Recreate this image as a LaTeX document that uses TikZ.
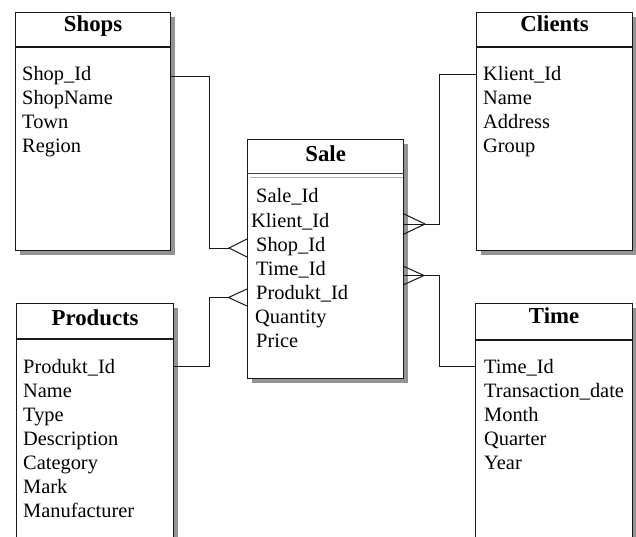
\documentclass[tikz,border=0pt]{standalone}
\usepackage{fontspec}
\setmainfont{Liberation Serif}
\usetikzlibrary{shadows}

\tikzset{
  tbl/.style={draw=black!90, line width=1.2pt, fill=white, anchor=north west,
    inner sep=0pt,
    drop shadow={shadow xshift=4.5pt, shadow yshift=-4.5pt, fill=black!42, opacity=1}},
  ttl/.style={anchor=base, inner sep=0pt, font=\bfseries\fontsize{22.8}{26}\selectfont},
  attr/.style={anchor=base west, inner sep=0pt, font=\fontsize{20.4}{24}\selectfont},
  conn/.style={draw=black!90, line width=1pt},
  sep/.style={draw=black!90, line width=1.2pt},
}

\begin{document}
\begin{tikzpicture}[x=1pt,y=-1pt]
\useasboundingbox (0,0) rectangle (636,537);
\fill[white] (0,0) rectangle (636,537);
\clip (0,0) rectangle (636,537);

% ---------- tables ----------
\node[tbl, minimum width=155pt, minimum height=238pt] (shops) at (15,12) {};
\node[tbl, minimum width=156pt, minimum height=238pt] (clients) at (476,12) {};
\node[tbl, minimum width=156pt, minimum height=239pt] (sale) at (247,139) {};
\node[tbl, minimum width=157pt, minimum height=262pt] (products) at (16,303) {};
\node[tbl, minimum width=157pt, minimum height=262pt] (time) at (475,303) {};

% header separators
\draw[sep] ([yshift=-35pt]shops.north west) -- ([yshift=-35pt]shops.north east);
\draw[sep] ([yshift=-35pt]clients.north west) -- ([yshift=-35pt]clients.north east);
\draw[sep] ([yshift=-36pt]products.north west) -- ([yshift=-36pt]products.north east);
\draw[sep] ([yshift=-37pt]time.north west) -- ([yshift=-37pt]time.north east);
\draw[sep, draw=black!75] ([yshift=-34.3pt]sale.north west) -- ([yshift=-34.3pt]sale.north east);
\draw[line width=0.9pt, draw=black!30] ([shift={(3pt,-38.6pt)}]sale.north west) -- ([shift={(-1pt,-38.6pt)}]sale.north east);

% titles
\node[ttl] (shopsT) at ([yshift=-20pt]shops.north) {Shops};
\node[ttl] (clientsT) at ([yshift=-20pt]clients.north) {Clients};
\node[ttl] (saleT) at ([yshift=-22.7pt]sale.north) {Sale};
\node[ttl] (productsT) at ([yshift=-22pt]products.north) {Products};
\node[ttl] (timeT) at ([yshift=-20.3pt]time.north) {Time};

% attributes: Shops
\node[attr] (shId) at (22,81) {Shop\_Id};
\node[attr] (shName) at (22,105) {ShopName};
\node[attr] (shTown) at (22,129) {Town};
\node[attr] (shRegion) at (22,153) {Region};

% attributes: Clients
\node[attr] (clId) at (483,81) {Klient\_Id};
\node[attr] (clName) at (483,105) {Name};
\node[attr] (clAddr) at (483,129) {Address};
\node[attr] (clGroup) at (483,153) {Group};

% attributes: Sale
\node[attr] (saId) at (256,203) {Sale\_Id};
\node[attr] (saKl) at (251,227) {Klient\_Id};
\node[attr] (saShop) at (256,251) {Shop\_Id};
\node[attr] (saTime) at (256,275) {Time\_Id};
\node[attr] (saProd) at (256,299) {Produkt\_Id};
\node[attr] (saQty) at (255,323) {Quantity};
\node[attr] (saPrice) at (256,347) {Price};

% attributes: Products
\node[attr] (prId) at (23,373) {Produkt\_Id};
\node[attr] (prName) at (23,397) {Name};
\node[attr] (prType) at (23,421) {Type};
\node[attr] (prDesc) at (23,445) {Description};
\node[attr] (prCat) at (23,469) {Category};
\node[attr] (prMark) at (23,493) {Mark};
\node[attr] (prMan) at (23,517) {Manufacturer};

% attributes: Time
\node[attr] (tiId) at (484,373) {Time\_Id};
\node[attr] (tiDate) at (484,397) {Transaction\_date};
\node[attr] (tiMonth) at (484,421) {Month};
\node[attr] (tiQuarter) at (484,445) {Quarter};
\node[attr] (tiYear) at (484,469) {Year};

% ---------- relationships ----------
% crow's foot tips
\coordinate (cShop) at (229,248);
\coordinate (cProd) at (228.5,297.5);
\coordinate (cKl) at (425,224);
\coordinate (cTime) at (424,275.5);

% attachment points on the one-side tables
\path ([yshift=4pt]shId.base) coordinate (pShop);
\path ([yshift=7pt]prId.base) coordinate (pProd);
\path ([yshift=6pt]clId.base) coordinate (pKl);
\path ([yshift=7pt]tiId.base) coordinate (pTime);

% Shops -- Sale
\draw[conn] (shops.east |- pShop) -| ([xshift=-20pt]cShop) -- (cShop);
\draw[conn] ([shift={(18pt,9pt)}]cShop) -- (cShop) -- ([shift={(18pt,-9pt)}]cShop);

% Products -- Sale
\draw[conn] (products.east |- pProd) -| ([xshift=-19pt]cProd) -- (cProd);
\draw[conn] ([shift={(18.5pt,8.5pt)}]cProd) -- (cProd) -- ([shift={(18.5pt,-8.5pt)}]cProd);

% Clients -- Sale
\draw[conn] (clients.west |- pKl) -| ([xshift=14pt]cKl) -- (sale.east |- cKl);
\draw[conn] ([shift={(-22pt,10.5pt)}]cKl) -- (cKl) -- ([shift={(-22pt,-10.5pt)}]cKl);

% Time -- Sale
\draw[conn] (time.west |- pTime) -| ([xshift=15pt]cTime) -- (sale.east |- cTime);
\draw[conn] ([shift={(-21pt,9.5pt)}]cTime) -- (cTime) -- ([shift={(-21pt,-9.5pt)}]cTime);
\end{tikzpicture}
\end{document}
